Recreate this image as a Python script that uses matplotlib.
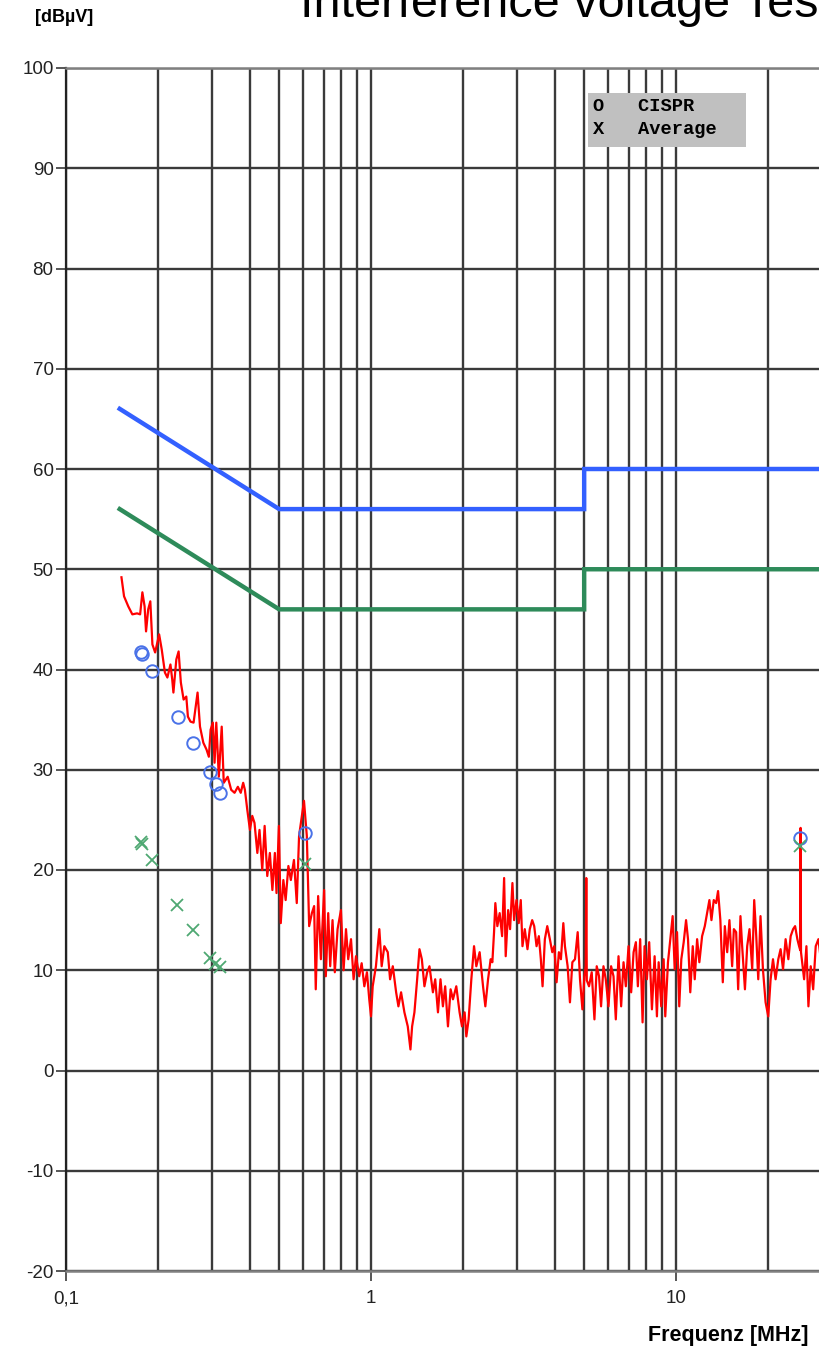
import matplotlib
matplotlib.use("Agg")
import matplotlib.pyplot as plt
from matplotlib.ticker import FixedLocator, FixedFormatter, NullFormatter, LogLocator

# --- limit lines (EN 55022 class B style) ---
lim_freq = [0.15, 0.5, 5.0, 5.0, 30.0]
qp_limit = [66, 56, 56, 60, 60]
avg_limit = [56, 46, 46, 50, 50]

# --- final measurements ---
cispr_freq = [0.176, 0.178, 0.191, 0.233, 0.260, 0.296, 0.310, 0.321, 0.608, 25.6]
cispr_level = [41.7, 41.5, 39.9, 35.3, 32.7, 29.8, 28.6, 27.7, 23.7, 23.2]
avg_freq = [0.176, 0.178, 0.191, 0.232, 0.260, 0.296, 0.309, 0.319, 0.608, 25.6]
avg_level = [22.8, 22.6, 21.0, 16.5, 14.0, 11.2, 10.6, 10.3, 20.6, 22.4]

# --- peak scan ---
scan_freq = [
    0.152, 0.155, 0.160, 0.165, 0.171, 0.175, 0.178, 0.181, 0.183, 0.186,
    0.189, 0.192, 0.196, 0.202, 0.206, 0.211, 0.215, 0.220, 0.223, 0.225,
    0.230, 0.234, 0.238, 0.243, 0.248, 0.251, 0.256, 0.262, 0.270, 0.275,
    0.282, 0.289, 0.294, 0.298, 0.303, 0.307, 0.311, 0.317, 0.324, 0.329,
    0.339, 0.348, 0.357, 0.366, 0.374, 0.381, 0.386, 0.393, 0.401, 0.408,
    0.415, 0.424, 0.431, 0.440, 0.448, 0.457, 0.466, 0.475, 0.484, 0.490,
    0.499, 0.506, 0.516, 0.525, 0.536, 0.546, 0.559, 0.571, 0.581, 0.603,
    0.616, 0.627, 0.640, 0.651, 0.659, 0.671, 0.685, 0.702, 0.711, 0.724,
    0.735, 0.748, 0.761, 0.777, 0.797, 0.813, 0.828, 0.842, 0.860, 0.877,
    0.893, 0.915, 0.932, 0.951, 0.970, 0.987, 1.000, 1.013, 1.038, 1.065,
    1.084, 1.106, 1.135, 1.155, 1.179, 1.209, 1.230, 1.255, 1.287, 1.320,
    1.347, 1.364, 1.388, 1.417, 1.442, 1.468, 1.497, 1.528, 1.555, 1.596,
    1.624, 1.658, 1.690, 1.721, 1.751, 1.788, 1.824, 1.857, 1.904, 1.952,
    1.988, 2.028, 2.054, 2.090, 2.133, 2.177, 2.215, 2.271, 2.330, 2.371,
    2.420, 2.468, 2.500, 2.532, 2.557, 2.596, 2.642, 2.691, 2.732, 2.765,
    2.816, 2.858, 2.909, 2.946, 2.999, 3.051, 3.098, 3.138, 3.193, 3.259,
    3.316, 3.377, 3.429, 3.490, 3.551, 3.605, 3.652, 3.716, 3.784, 3.859,
    3.930, 3.990, 4.060, 4.131, 4.195, 4.272, 4.324, 4.413, 4.491, 4.573,
    4.665, 4.761, 4.845, 4.934, 5.009, 5.060, 5.080, 5.100, 5.186, 5.293,
    5.403, 5.497, 5.594, 5.680, 5.784, 5.885, 6.007, 6.127, 6.240, 6.349,
    6.480, 6.610, 6.730, 6.848, 6.990, 7.129, 7.261, 7.388, 7.499, 7.632,
    7.771, 7.888, 8.028, 8.169, 8.339, 8.510, 8.660, 8.773, 8.947, 9.111,
    9.223, 9.413, 9.577, 9.752, 9.901, 10.08, 10.25, 10.41, 10.60, 10.79,
    10.95, 11.14, 11.35, 11.52, 11.73, 11.93, 12.18, 12.43, 12.65, 12.87,
    13.07, 13.30, 13.54, 13.74, 13.98, 14.24, 14.46, 14.72, 14.97, 15.28,
    15.48, 15.75, 15.99, 16.27, 16.48, 16.83, 17.12, 17.42, 17.78, 18.05,
    18.33, 18.61, 18.93, 19.28, 19.67, 20.07, 20.43, 20.80, 21.21, 21.65,
    22.03, 22.44, 22.88, 23.36, 23.77, 24.21, 24.58, 25.00, 25.33, 25.55,
    25.62, 25.70, 26.31, 26.77, 27.18, 27.66, 28.17, 28.72, 29.31, 29.83,
]
scan_level = [
    49.2, 47.3, 46.3, 45.5, 45.6, 45.5, 47.7, 46.3, 43.8, 46.0,
    46.8, 42.5, 41.7, 43.5, 42.0, 39.7, 39.2, 40.5, 39.0, 37.7,
    41.0, 41.8, 38.7, 37.0, 37.3, 35.3, 34.8, 34.7, 37.7, 34.3,
    32.7, 32.0, 31.3, 34.0, 34.7, 30.7, 34.7, 29.3, 34.3, 28.7,
    29.3, 28.0, 27.7, 28.3, 27.7, 28.7, 28.0, 26.0, 24.0, 25.4,
    24.7, 21.7, 24.0, 20.0, 24.4, 19.4, 21.7, 18.0, 21.7, 17.7,
    24.4, 14.7, 19.0, 17.0, 20.4, 19.0, 21.0, 16.7, 23.4, 26.9,
    23.4, 14.4, 15.7, 16.4, 8.1, 17.4, 11.1, 18.0, 9.4, 15.7,
    10.4, 15.0, 9.8, 14.1, 16.0, 10.0, 14.1, 11.1, 13.1, 9.1,
    11.4, 9.4, 10.7, 8.4, 9.8, 7.1, 5.4, 8.4, 10.4, 14.1,
    10.4, 12.4, 11.8, 9.1, 10.4, 7.8, 6.4, 7.8, 5.8, 4.4,
    2.1, 4.4, 5.8, 9.1, 12.1, 11.1, 8.4, 9.8, 10.4, 7.8,
    9.1, 5.8, 9.1, 6.4, 8.4, 4.4, 8.1, 7.1, 8.4, 5.8,
    4.4, 5.8, 3.4, 5.1, 9.1, 12.4, 10.4, 11.8, 8.4, 6.4,
    9.1, 11.1, 10.8, 13.8, 16.7, 14.4, 15.7, 13.4, 19.2, 11.4,
    16.0, 14.1, 18.7, 15.0, 17.0, 14.7, 17.0, 12.4, 14.1, 12.1,
    14.1, 15.0, 14.4, 12.4, 13.4, 11.1, 8.4, 13.1, 14.4, 13.1,
    11.8, 12.4, 8.8, 11.8, 11.1, 14.7, 12.4, 10.4, 6.8, 10.8,
    11.1, 13.8, 9.1, 6.1, 9.4, 10.4, 19.2, 9.0, 8.4, 9.8,
    5.1, 10.4, 9.4, 6.4, 10.4, 9.1, 6.4, 10.4, 9.4, 5.1,
    11.4, 6.4, 10.8, 8.4, 12.4, 7.8, 11.8, 12.8, 8.4, 13.1,
    4.8, 12.4, 9.1, 12.8, 6.1, 11.4, 5.4, 10.8, 6.4, 11.1,
    5.4, 10.8, 13.1, 15.4, 10.1, 13.8, 6.4, 11.1, 12.8, 15.0,
    13.1, 7.8, 12.4, 9.1, 13.1, 10.8, 13.4, 14.4, 15.7, 17.0,
    15.0, 17.0, 16.7, 17.9, 15.0, 8.8, 14.4, 11.8, 15.0, 10.4,
    14.1, 13.8, 8.1, 15.4, 12.4, 8.1, 12.4, 14.1, 10.1, 17.0,
    13.4, 9.1, 15.4, 10.1, 6.8, 5.4, 9.1, 11.1, 9.1, 11.1,
    12.1, 10.1, 13.1, 11.1, 13.4, 14.1, 14.4, 13.1, 12.4, 12.0,
    24.2, 11.8, 9.1, 12.4, 6.4, 10.4, 8.1, 12.4, 13.1, 11.1,
]

y_ticks = [-20, -10, 0, 10, 20, 30, 40, 50, 60, 70, 80, 90, 100]
x_ticks = [0.1, 1, 10]
x_ticklabels = ["0,1", "1", "10"]

plt.rcParams['font.family'] = ['Liberation Sans', 'DejaVu Sans']
plt.rcParams['axes.unicode_minus'] = False

W, H = 819, 1349
fig = plt.figure(figsize=(W / 100, H / 100), dpi=100)
ax = fig.add_axes([66 / W, 1 - 1271 / H, 755.5 / W, 1203 / H])

ax.set_xscale('log')
ax.set_xlim(0.1, 30)
ax.set_ylim(-20, 100)

grid_c = '#3a3a3a'
ax.xaxis.set_major_locator(FixedLocator(x_ticks))
ax.xaxis.set_major_formatter(FixedFormatter(x_ticklabels))
ax.xaxis.set_minor_locator(LogLocator(base=10, subs=range(2, 10)))
ax.xaxis.set_minor_formatter(NullFormatter())
ax.set_yticks(y_ticks)
ax.grid(which='both', axis='x', color=grid_c, lw=1.7)
ax.grid(which='major', axis='y', color=grid_c, lw=1.7)
ax.set_axisbelow(True)
ax.tick_params(which='major', direction='out', length=7, width=1.2, color=grid_c,
               labelsize=13.5, labelcolor='#222222')
ax.tick_params(axis='y', pad=2)
ax.tick_params(axis='x', pad=7)
ax.tick_params(which='minor', length=0)

for s in ['top', 'bottom']:
    ax.spines[s].set_color('#808080')
    ax.spines[s].set_linewidth(1.8)
ax.spines['left'].set_color('#222222')
ax.spines['left'].set_linewidth(1.6)
ax.spines['right'].set_visible(False)

# limits
ax.plot(lim_freq, qp_limit, color='#3360ff', lw=3.2, solid_joinstyle='miter')
ax.plot(lim_freq, avg_limit, color='#2e8b5a', lw=3.2, solid_joinstyle='miter')

# scan
ax.plot(scan_freq, scan_level, color='#ff0000', lw=1.6)

# final measurements
ax.plot(cispr_freq, cispr_level, ls='none', marker='o', ms=9, mfc='none',
        mec='#4a72e8', mew=1.4)
ax.plot(avg_freq, avg_level, ls='none', marker='x', ms=9, mec='#4ea872', mew=1.3)

# legend box
fig.patches.append(plt.Rectangle((588 / W, 1 - 147 / H), 158 / W, 54 / H,
                                 transform=fig.transFigure, fc='#c0c0c0', ec='none'))
fig.text(593 / W, 1 - 118 / H, "O   CISPR\nX   Average",
         family=['Liberation Mono', 'DejaVu Sans Mono'], fontweight='bold', fontsize=13.5,
         va='center', ha='left', linespacing=1.45)

fig.text(300 / W, 1 - 17 / H, "Interference voltage Test", fontsize=35,
         va='baseline', ha='left')
fig.text(35 / W, 1 - 18 / H, "[dBµV]", fontsize=13, fontweight='bold', va='center', ha='left')
fig.text(808 / W, 1 - 1335 / H, "Frequenz [MHz]", fontsize=15.5, fontweight='bold',
         va='center', ha='right')

fig.savefig("out.png", dpi=100)
